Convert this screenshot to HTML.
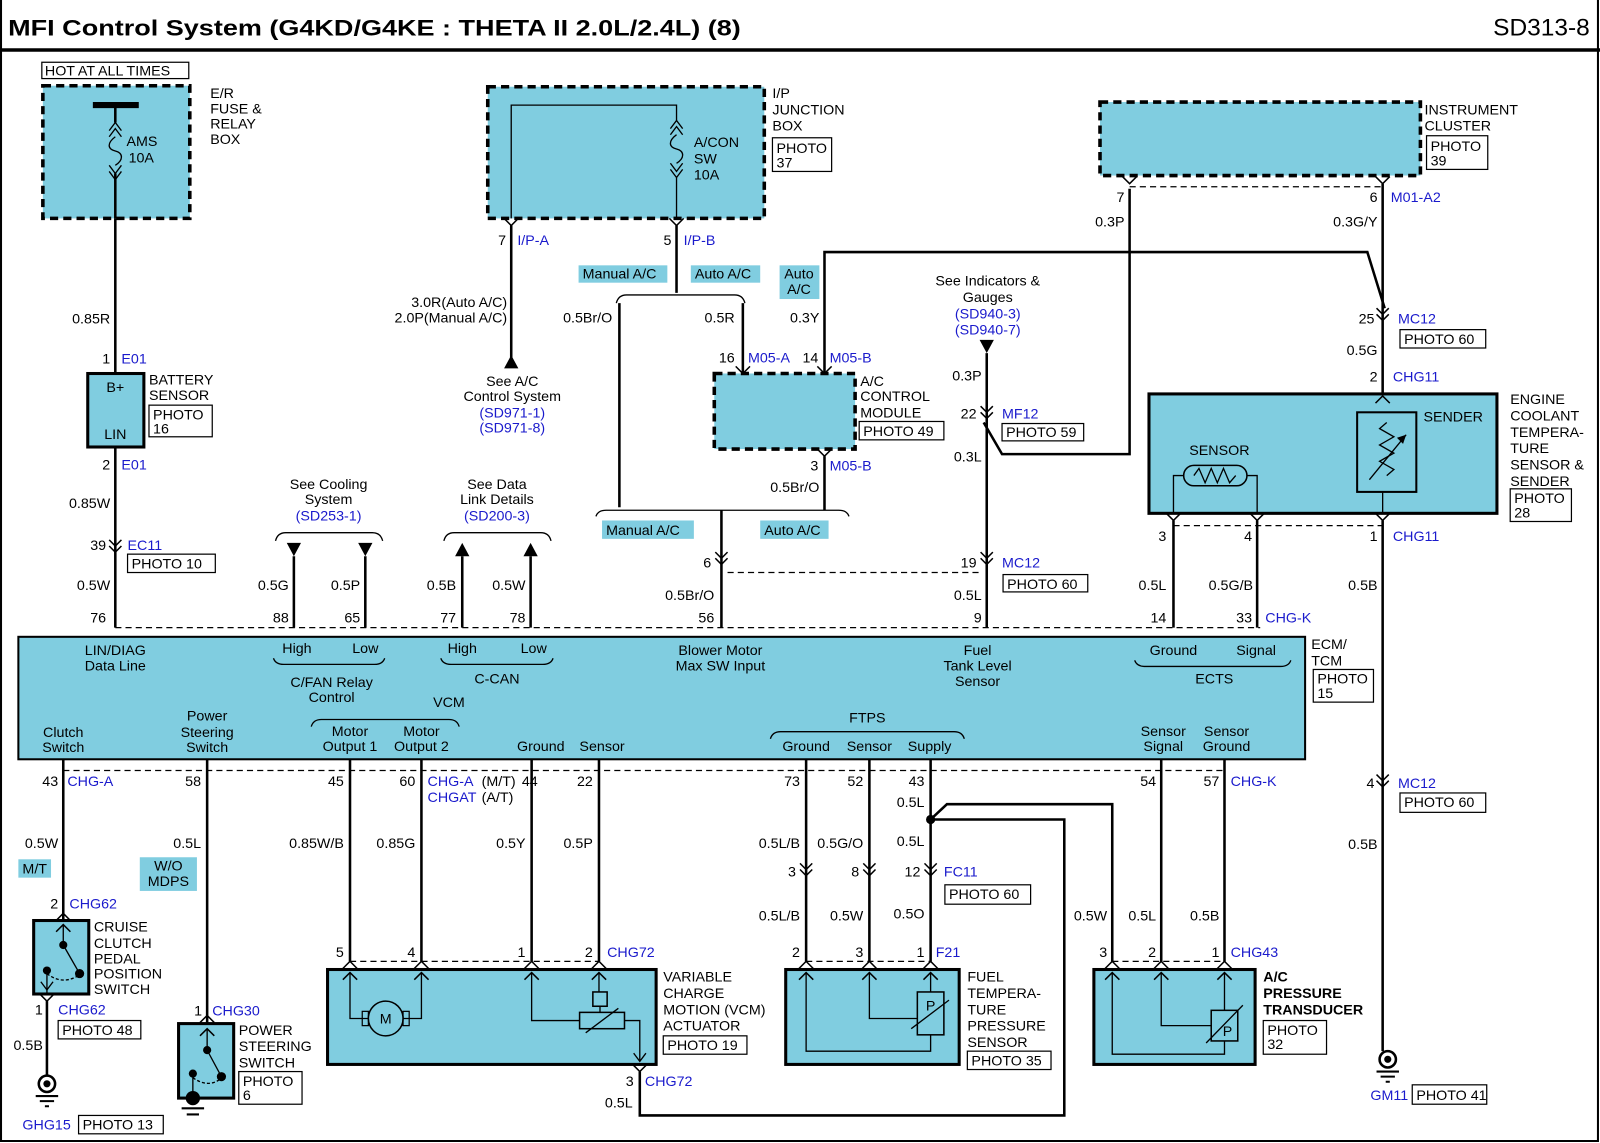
<!DOCTYPE html>
<html><head><meta charset="utf-8"><style>
html,body{margin:0;padding:0;background:#fff;}
svg{display:block;}
text{font-family:"Liberation Sans",sans-serif;font-size:14px;fill:#000;}
.b{fill:#1a1acc;}
.r{text-anchor:end;}
.m{text-anchor:middle;}
.w{stroke:#000;stroke-width:2.5;fill:none;}
.t{stroke:#000;stroke-width:1.3;fill:none;}
.d{stroke:#000;stroke-width:1.2;fill:none;stroke-dasharray:6,4;}
.bx{fill:#80cde0;stroke:#000;stroke-width:3.5;}
.dbx{fill:#80cde0;stroke:#000;stroke-width:3.5;stroke-dasharray:8,5;}
.pb{fill:#fff;stroke:#000;stroke-width:1.2;}
.lb{fill:#80cde0;}
</style></head><body>
<svg width="1600" height="1143" viewBox="0 0 1568 1120" preserveAspectRatio="none" xmlns="http://www.w3.org/2000/svg">
<defs>
<path id="cv" d="M-6,-5 L0,1 L6,-5 M-6,1 L0,7 L6,1" stroke="#000" stroke-width="1.5" fill="none"/>
<path id="yv" d="M-7,-7 L0,0 L7,-7" stroke="#000" stroke-width="1.5" fill="none"/>
<path id="car" d="M-7,7 L0,0 L7,7" stroke="#000" stroke-width="1.5" fill="none"/>
<g id="gnd"><circle cx="0" cy="0" r="8" fill="#fff" stroke="#000" stroke-width="2.5"/><circle cx="0" cy="0" r="3.5" fill="#000"/><path d="M-11,12 H11 M-7,17 H7 M-2,22 H2" stroke="#000" stroke-width="2"/></g>
</defs>
<rect x="0" y="0" width="1568" height="1120" fill="#fff"/>
<!-- frame -->
<path d="M1,0 V1118 H1566 V0" stroke="#000" stroke-width="2" fill="none"/>
<line x1="0" y1="49" x2="1568" y2="49" stroke="#000" stroke-width="3.5"/>
<text x="8" y="35" style="font-size:22px;font-weight:bold" textLength="718" lengthAdjust="spacingAndGlyphs">MFI Control System (G4KD/G4KE : THETA II 2.0L/2.4L) (8)</text>
<text x="1558" y="35" class="r" style="font-size:24px">SD313-8</text>

<!-- E/R fuse box -->
<rect x="41" y="61" width="144" height="16" class="pb"/>
<text x="44" y="74">HOT AT ALL TIMES</text>
<rect x="42" y="84" width="144" height="130" class="dbx"/>
<line x1="91" y1="103" x2="136" y2="103" stroke="#000" stroke-width="6"/>
<path d="M113,103 V120 M113,170 V214" class="w"/>
<path d="M107,128 L113,120 L119,128 M107,134 L113,126 L119,134" class="t"/>
<path d="M113,134 C105,140 105,146 113,148 C121,150 121,157 113,162" class="t" stroke-width="1.8"/>
<path d="M107,162 L113,170 L119,162 M107,168 L113,176 L119,168" class="t"/>
<text x="124" y="143">AMS</text><text x="126" y="159">10A</text>
<text x="206" y="96">E/R</text><text x="206" y="111">FUSE &amp;</text><text x="206" y="126">RELAY</text><text x="206" y="141">BOX</text>
<path d="M113,214 V366" class="w"/>
<text x="108" y="317" class="r">0.85R</text>
<text x="108" y="356" class="r">1</text><text x="119" y="356" class="b">E01</text>
<rect x="86" y="366" width="55" height="72" class="bx" style="stroke-width:3"/>
<text x="113" y="384" class="m">B+</text><text x="113" y="430" class="m">LIN</text>
<text x="146" y="377">BATTERY</text><text x="146" y="392">SENSOR</text>
<rect x="146" y="397" width="62" height="31" class="pb"/><text x="150" y="411">PHOTO</text><text x="150" y="425">16</text>
<path d="M113,438 V615" class="w"/>
<text x="108" y="460" class="r">2</text><text x="119" y="460" class="b">E01</text>
<text x="108" y="498" class="r">0.85W</text>
<use href="#cv" x="113" y="534"/>
<text x="104" y="539" class="r">39</text><text x="125" y="539" class="b">EC11</text>
<rect x="125" y="543" width="86" height="18" class="pb"/><text x="129" y="557">PHOTO 10</text>
<text x="108" y="578" class="r">0.5W</text>
<text x="104" y="610" class="r">76</text>

<!-- cooling / data link -->
<text x="322" y="479" class="m">See Cooling</text><text x="322" y="494" class="m">System</text><text x="322" y="510" class="m b">(SD253-1)</text>
<path d="M270,530 Q272,522 280,522 H365 Q373,522 375,530" class="t"/>
<path d="M281,532 H295 L288,545 Z M351,532 H365 L358,545 Z" fill="#000"/>
<path d="M288,545 V615 M358,545 V615" class="w"/>
<text x="283" y="578" class="r">0.5G</text><text x="353" y="578" class="r">0.5P</text>
<text x="283" y="610" class="r">88</text><text x="353" y="610" class="r">65</text>
<text x="487" y="479" class="m">See Data</text><text x="487" y="494" class="m">Link Details</text><text x="487" y="510" class="m b">(SD200-3)</text>
<path d="M435,530 Q437,522 445,522 H530 Q538,522 540,530" class="t"/>
<path d="M446,545 H460 L453,532 Z M513,545 H527 L520,532 Z" fill="#000"/>
<path d="M453,545 V615 M520,545 V615" class="w"/>
<text x="447" y="578" class="r">0.5B</text><text x="515" y="578" class="r">0.5W</text>
<text x="447" y="610" class="r">77</text><text x="515" y="610" class="r">78</text>

<!-- I/P junction box -->
<rect x="478" y="85" width="271" height="129" class="dbx"/>
<path d="M501,214 V103 H663 V118" class="t" stroke-width="1.5"/>
<path d="M657,126 L663,118 L669,126 M657,132 L663,124 L669,132" class="t"/>
<path d="M663,132 C655,138 655,144 663,146 C671,148 671,155 663,160" class="t" stroke-width="1.8"/>
<path d="M657,160 L663,168 L669,160 M657,166 L663,174 L669,166 M663,174 V214" class="t"/>
<text x="680" y="144">A/CON</text><text x="680" y="160">SW</text><text x="680" y="176">10A</text>
<text x="757" y="96">I/P</text><text x="757" y="112">JUNCTION</text><text x="757" y="128">BOX</text>
<rect x="757" y="135" width="58" height="33" class="pb"/><text x="761" y="150">PHOTO</text><text x="761" y="164">37</text>
<use href="#yv" x="501" y="221"/><use href="#yv" x="663" y="221"/>
<path d="M501,221 V352" class="w"/>
<path d="M494,361 H508 L501,348 Z" fill="#000"/>
<text x="496" y="240" class="r">7</text><text x="507" y="240" class="b">I/P-A</text>
<text x="497" y="301" class="r">3.0R(Auto A/C)</text><text x="497" y="316" class="r">2.0P(Manual A/C)</text>
<text x="502" y="378" class="m">See A/C</text><text x="502" y="393" class="m">Control System</text><text x="502" y="409" class="m b">(SD971-1)</text><text x="502" y="424" class="m b">(SD971-8)</text>
<path d="M663,221 V287" class="w"/>
<text x="658" y="240" class="r">5</text><text x="670" y="240" class="b">I/P-B</text>
<path d="M604,297 Q606,289 614,289 H720 Q728,289 730,297" class="t"/>
<path d="M607,297 V497 M728,297 V365" class="w"/>
<rect x="567" y="260" width="87" height="17" class="lb"/><text x="571" y="273">Manual A/C</text>
<rect x="677" y="260" width="68" height="17" class="lb"/><text x="681" y="273">Auto A/C</text>
<rect x="764" y="260" width="39" height="33" class="lb"/><text x="783" y="273" class="m">Auto</text><text x="783" y="288" class="m">A/C</text>
<text x="600" y="316" class="r">0.5Br/O</text><text x="720" y="316" class="r">0.5R</text><text x="803" y="316" class="r">0.3Y</text>
<path d="M808,365 V247 H1340 L1357,302" class="w"/>
<text x="720" y="355" class="r">16</text><text x="733" y="355" class="b">M05-A</text>
<text x="802" y="355" class="r">14</text><text x="813" y="355" class="b">M05-B</text>
<use href="#yv" x="728" y="366"/><use href="#yv" x="808" y="366"/>
<rect x="700" y="366" width="138" height="74" class="dbx"/>
<text x="843" y="378">A/C</text><text x="843" y="393">CONTROL</text><text x="843" y="409">MODULE</text>
<rect x="842" y="413" width="83" height="18" class="pb"/><text x="846" y="427">PHOTO 49</text>
<use href="#yv" x="808" y="447"/>
<path d="M808,447 V500" class="w"/>
<text x="802" y="461" class="r">3</text><text x="813" y="461" class="b">M05-B</text>
<text x="803" y="482" class="r">0.5Br/O</text>
<path d="M584,506 Q586,500 594,500 H822 Q830,500 832,506" class="t"/>
<path d="M707,500 V615" class="w"/>
<rect x="590" y="510" width="90" height="18" class="lb"/><text x="594" y="524">Manual A/C</text>
<rect x="745" y="510" width="67" height="18" class="lb"/><text x="749" y="524">Auto A/C</text>
<use href="#cv" x="707" y="546"/>
<text x="697" y="556" class="r">6</text>
<path d="M713,561 H962" class="d"/>
<text x="700" y="588" class="r">0.5Br/O</text>
<text x="700" y="610" class="r">56</text>

<!-- fuel gauge -->
<text x="968" y="280" class="m">See Indicators &amp;</text><text x="968" y="296" class="m">Gauges</text><text x="968" y="312" class="m b">(SD940-3)</text><text x="968" y="328" class="m b">(SD940-7)</text>
<path d="M960,333 H974 L967,346 Z" fill="#000"/>
<path d="M967,346 V615" class="w"/>
<text x="962" y="373" class="r">0.3P</text>
<use href="#cv" x="967" y="403"/>
<text x="957" y="410" class="r">22</text><text x="982" y="410" class="b">MF12</text>
<rect x="982" y="415" width="80" height="17" class="pb"/><text x="986" y="428">PHOTO 59</text>
<text x="962" y="452" class="r">0.3L</text>
<path d="M1107,185 V445 H982 L964,414" class="w"/>
<use href="#cv" x="967" y="546"/>
<text x="957" y="556" class="r">19</text><text x="982" y="556" class="b">MC12</text>
<rect x="983" y="563" width="83" height="17" class="pb"/><text x="987" y="577">PHOTO 60</text>
<text x="962" y="588" class="r">0.5L</text>
<text x="962" y="610" class="r">9</text>

<!-- instrument cluster -->
<rect x="1078" y="100" width="314" height="72" class="dbx"/>
<text x="1396" y="112">INSTRUMENT</text><text x="1396" y="128">CLUSTER</text>
<rect x="1398" y="133" width="60" height="33" class="pb"/><text x="1402" y="148">PHOTO</text><text x="1402" y="162">39</text>
<path d="M1107,183 H1355" class="d"/>
<use href="#yv" x="1107" y="180"/><use href="#yv" x="1355" y="180"/>
<path d="M1355,180 V386" class="w"/>
<text x="1102" y="198" class="r">7</text>
<text x="1350" y="198" class="r">6</text><text x="1363" y="198" class="b">M01-A2</text>
<text x="1102" y="222" class="r">0.3P</text><text x="1350" y="222" class="r">0.3G/Y</text>
<use href="#cv" x="1355" y="307"/>
<text x="1347" y="317" class="r">25</text><text x="1370" y="317" class="b">MC12</text>
<rect x="1372" y="323" width="84" height="18" class="pb"/><text x="1376" y="337">PHOTO 60</text>
<text x="1350" y="348" class="r">0.5G</text>
<text x="1350" y="374" class="r">2</text><text x="1365" y="374" class="b">CHG11</text>

<!-- ECT sensor -->
<rect x="1126" y="386" width="341" height="117" class="bx" style="stroke-width:3"/>
<use href="#car" x="1355" y="388"/>
<rect x="1330" y="404" width="58" height="78" fill="none" stroke="#000" stroke-width="2"/>
<path d="M1359,414 L1352,420 L1366,428 L1352,436 L1366,444 L1352,452 L1366,460 L1359,466" class="t"/>
<path d="M1342,470 L1378,426" class="t"/><path d="M1378,426 L1369,429 L1375,435 Z" fill="#000"/>
<path d="M1355,482 V503" class="t" stroke-width="1.5"/>
<text x="1395" y="413">SENDER</text>
<text x="1195" y="446" class="m">SENSOR</text>
<rect x="1160" y="456" width="62" height="20" rx="10" fill="none" stroke="#000" stroke-width="1.5"/>
<path d="M1170,466 L1175,459 L1181,473 L1187,459 L1193,473 L1199,459 L1205,473 L1211,466" class="t"/>
<path d="M1160,466 H1150 V503 M1222,466 H1232 V503" class="t" stroke-width="1.5"/>
<text x="1480" y="396">ENGINE</text><text x="1480" y="412">COOLANT</text><text x="1480" y="428">TEMPERA-</text><text x="1480" y="444">TURE</text><text x="1480" y="460">SENSOR &amp;</text><text x="1480" y="476">SENDER</text>
<rect x="1480" y="479" width="60" height="32" class="pb"/><text x="1484" y="493">PHOTO</text><text x="1484" y="507">28</text>
<use href="#yv" x="1150" y="510"/><use href="#yv" x="1232" y="510"/><use href="#yv" x="1355" y="510"/>
<path d="M1150,515 H1355" class="d"/>
<path d="M1150,510 V615 M1232,510 V615 M1355,510 V1030" class="w"/>
<text x="1143" y="530" class="r">3</text><text x="1227" y="530" class="r">4</text>
<text x="1350" y="530" class="r">1</text><text x="1365" y="530" class="b">CHG11</text>
<text x="1143" y="578" class="r">0.5L</text><text x="1228" y="578" class="r">0.5G/B</text><text x="1350" y="578" class="r">0.5B</text>
<text x="1143" y="610" class="r">14</text><text x="1227" y="610" class="r">33</text><text x="1240" y="610" class="b">CHG-K</text>
<use href="#cv" x="1355" y="764"/>
<text x="1347" y="772" class="r">4</text><text x="1370" y="772" class="b">MC12</text>
<rect x="1372" y="777" width="84" height="19" class="pb"/><text x="1376" y="791">PHOTO 60</text>
<text x="1350" y="832" class="r">0.5B</text>
<use href="#gnd" x="1360" y="1038"/>
<text x="1380" y="1078" class="r b">GM11</text>
<rect x="1384" y="1063" width="73" height="19" class="pb"/><text x="1388" y="1078">PHOTO 41</text>

<!-- ECM -->
<path d="M113,615 H1235" class="d"/>
<rect x="18" y="624" width="1261" height="120" class="lb" stroke="#000" stroke-width="2"/>
<text x="113" y="642" class="m">LIN/DIAG</text><text x="113" y="657" class="m">Data Line</text>
<text x="291" y="640" class="m">High</text><text x="358" y="640" class="m">Low</text>
<path d="M268,645 Q270,651 278,651 H367 Q375,651 377,645" class="t"/>
<text x="325" y="673" class="m">C/FAN Relay</text><text x="325" y="688" class="m">Control</text>
<text x="453" y="640" class="m">High</text><text x="523" y="640" class="m">Low</text>
<path d="M432,645 Q434,651 442,651 H532 Q540,651 542,645" class="t"/>
<text x="487" y="670" class="m">C-CAN</text>
<text x="706" y="642" class="m">Blower Motor</text><text x="706" y="657" class="m">Max SW Input</text>
<text x="958" y="642" class="m">Fuel</text><text x="958" y="657" class="m">Tank Level</text><text x="958" y="672" class="m">Sensor</text>
<text x="1150" y="642" class="m">Ground</text><text x="1231" y="642" class="m">Signal</text>
<path d="M1112,647 Q1114,653 1122,653 H1255 Q1263,653 1265,647" class="t"/>
<text x="1190" y="670" class="m">ECTS</text>
<text x="1285" y="636">ECM/</text><text x="1285" y="652">TCM</text>
<rect x="1287" y="656" width="59" height="32" class="pb"/><text x="1291" y="670">PHOTO</text><text x="1291" y="684">15</text>
<text x="62" y="722" class="m">Clutch</text><text x="62" y="737" class="m">Switch</text>
<text x="203" y="706" class="m">Power</text><text x="203" y="722" class="m">Steering</text><text x="203" y="737" class="m">Switch</text>
<text x="440" y="693" class="m">VCM</text>
<path d="M305,712 Q307,705 315,705 H440 Q448,705 450,712" class="t"/>
<text x="343" y="721" class="m">Motor</text><text x="343" y="736" class="m">Output 1</text>
<text x="413" y="721" class="m">Motor</text><text x="413" y="736" class="m">Output 2</text>
<text x="530" y="736" class="m">Ground</text><text x="590" y="736" class="m">Sensor</text>
<text x="850" y="708" class="m">FTPS</text>
<path d="M755,724 Q757,717 765,717 H935 Q943,717 945,724" class="t"/>
<text x="790" y="736" class="m">Ground</text><text x="852" y="736" class="m">Sensor</text><text x="911" y="736" class="m">Supply</text>
<text x="1140" y="721" class="m">Sensor</text><text x="1140" y="736" class="m">Signal</text>
<text x="1202" y="721" class="m">Sensor</text><text x="1202" y="736" class="m">Ground</text>
<path d="M62,755 H1200" class="d"/>
<text x="57" y="770" class="r">43</text><text x="66" y="770" class="b">CHG-A</text>
<text x="197" y="770" class="r">58</text>
<text x="337" y="770" class="r">45</text>
<text x="407" y="770" class="r">60</text><text x="419" y="770" class="b">CHG-A</text><text x="472" y="770">(M/T)</text>
<text x="419" y="786" class="b">CHGAT</text><text x="472" y="786">(A/T)</text>
<text x="527" y="770" class="r">44</text>
<text x="581" y="770" class="r">22</text>
<text x="784" y="770" class="r">73</text><text x="846" y="770" class="r">52</text><text x="906" y="770" class="r">43</text>
<text x="1133" y="770" class="r">54</text><text x="1195" y="770" class="r">57</text><text x="1206" y="770" class="b">CHG-K</text>

<!-- clutch switch -->
<path d="M62,744 V902" class="w"/>
<text x="57" y="831" class="r">0.5W</text>
<rect x="18" y="842" width="32" height="18" class="lb"/><text x="22" y="856">M/T</text>
<text x="57" y="890" class="r">2</text><text x="68" y="890" class="b">CHG62</text>
<use href="#car" x="62" y="895"/>
<rect x="33" y="902" width="54" height="72" class="bx" style="stroke-width:3"/>
<use href="#car" x="62" y="906"/>
<path d="M62,906 V926 L78,954" class="t" stroke-width="1.5"/>
<circle cx="62" cy="926" r="4" fill="#000"/><circle cx="78" cy="954" r="4.5" fill="#000"/><circle cx="46" cy="951" r="4" fill="#000"/>
<path d="M46,954 Q60,965 75,957" class="t" stroke-dasharray="3,2"/>
<path d="M46,951 V974" class="t" stroke-width="1.5"/>
<path d="M40,962 L46,970 L52,962" class="t"/>
<use href="#yv" x="46" y="981"/>
<path d="M46,981 V1054" class="w"/>
<text x="92" y="913">CRUISE</text><text x="92" y="929">CLUTCH</text><text x="92" y="944">PEDAL</text><text x="92" y="959">POSITION</text><text x="92" y="974">SWITCH</text>
<text x="42" y="994" class="r">1</text><text x="57" y="994" class="b">CHG62</text>
<rect x="57" y="1000" width="81" height="18" class="pb"/><text x="61" y="1014">PHOTO 48</text>
<text x="42" y="1029" class="r">0.5B</text>
<use href="#gnd" x="46" y="1062"/>
<text x="22" y="1107" class="b">GHG15</text>
<rect x="77" y="1093" width="83" height="18" class="pb"/><text x="81" y="1107">PHOTO 13</text>

<!-- power steering switch -->
<path d="M203,744 V1002" class="w"/>
<text x="197" y="831" class="r">0.5L</text>
<rect x="137" y="840" width="56" height="33" class="lb"/><text x="165" y="853" class="m">W/O</text><text x="165" y="868" class="m">MDPS</text>
<text x="198" y="995" class="r">1</text><text x="208" y="995" class="b">CHG30</text>
<use href="#car" x="203" y="995"/>
<rect x="175" y="1003" width="54" height="73" class="bx" style="stroke-width:3"/>
<use href="#car" x="203" y="1008"/>
<path d="M203,1008 V1029 L217,1055" class="t" stroke-width="1.5"/>
<circle cx="203" cy="1029" r="4" fill="#000"/><circle cx="217" cy="1055" r="4.5" fill="#000"/><circle cx="189" cy="1052" r="4" fill="#000"/>
<path d="M189,1056 Q203,1066 215,1058" class="t" stroke-dasharray="3,2"/>
<path d="M189,1052 V1076" class="t" stroke-width="1.5"/>
<circle cx="189" cy="1076" r="7" fill="#000"/>
<path d="M178,1086 H200 M183,1092 H195" stroke="#000" stroke-width="2"/>
<text x="234" y="1014">POWER</text><text x="234" y="1030">STEERING</text><text x="234" y="1046">SWITCH</text>
<rect x="234" y="1050" width="62" height="32" class="pb"/><text x="238" y="1064">PHOTO</text><text x="238" y="1078">6</text>

<!-- VCM actuator -->
<path d="M343,744 V942 M413,744 V942 M521,744 V942 M587,744 V942" class="w"/>
<text x="337" y="831" class="r">0.85W/B</text><text x="407" y="831" class="r">0.85G</text><text x="515" y="831" class="r">0.5Y</text><text x="581" y="831" class="r">0.5P</text>
<text x="337" y="938" class="r">5</text><text x="407" y="938" class="r">4</text><text x="515" y="938" class="r">1</text><text x="581" y="938" class="r">2</text><text x="595" y="938" class="b">CHG72</text>
<path d="M343,942 H587" class="d"/>
<use href="#car" x="343" y="942"/><use href="#car" x="413" y="942"/><use href="#car" x="521" y="942"/><use href="#car" x="587" y="942"/>
<rect x="321" y="950" width="322" height="93" class="bx" style="stroke-width:3"/>
<use href="#car" x="343" y="953"/><use href="#car" x="413" y="953"/><use href="#car" x="521" y="953"/><use href="#car" x="587" y="953"/>
<path d="M343,953 V998 H361 M413,953 V998 H395" class="t" stroke-width="1.5"/>
<circle cx="378" cy="998" r="17" fill="none" stroke="#000" stroke-width="1.5"/>
<rect x="355" y="991" width="6" height="14" fill="none" stroke="#000" stroke-width="1.2"/><rect x="395" y="991" width="6" height="14" fill="none" stroke="#000" stroke-width="1.2"/>
<text x="378" y="1003" class="m">M</text>
<path d="M521,953 V1000 H568 M587,953 V972" class="t" stroke-width="1.5"/>
<rect x="581" y="972" width="14" height="14" fill="none" stroke="#000" stroke-width="1.5"/>
<path d="M588,986 V992" class="t" stroke-width="1.5"/>
<rect x="568" y="992" width="44" height="16" fill="none" stroke="#000" stroke-width="1.5"/>
<path d="M574,1012 L606,988" class="t"/>
<path d="M612,1000 H627 V1040" class="t" stroke-width="1.5"/>
<path d="M621,1032 L627,1040 L633,1032" class="t"/>
<use href="#yv" x="627" y="1050"/>
<path d="M627,1050 V1093 H1043 V803 H912" class="w"/>
<text x="650" y="962">VARIABLE</text><text x="650" y="978">CHARGE</text><text x="650" y="994">MOTION (VCM)</text><text x="650" y="1010">ACTUATOR</text>
<rect x="650" y="1015" width="82" height="18" class="pb"/><text x="654" y="1029">PHOTO 19</text>
<text x="621" y="1064" class="r">3</text><text x="632" y="1064" class="b">CHG72</text>
<text x="620" y="1085" class="r">0.5L</text>

<!-- FTPS -->
<path d="M790,744 V942 M852,744 V942 M912,744 V942" class="w"/>
<circle cx="912" cy="803" r="4.5" fill="#000"/>
<path d="M912,803 L928,788 H1090 V942" class="w"/>
<text x="906" y="791" class="r">0.5L</text><text x="906" y="829" class="r">0.5L</text>
<text x="784" y="831" class="r">0.5L/B</text><text x="846" y="831" class="r">0.5G/O</text>
<use href="#cv" x="790" y="851"/><use href="#cv" x="852" y="851"/><use href="#cv" x="912" y="851"/>
<text x="780" y="859" class="r">3</text><text x="842" y="859" class="r">8</text><text x="902" y="859" class="r">12</text><text x="925" y="859" class="b">FC11</text>
<rect x="926" y="867" width="84" height="19" class="pb"/><text x="930" y="881">PHOTO 60</text>
<text x="784" y="902" class="r">0.5L/B</text><text x="846" y="902" class="r">0.5W</text><text x="906" y="900" class="r">0.5O</text>
<text x="784" y="938" class="r">2</text><text x="846" y="938" class="r">3</text><text x="906" y="938" class="r">1</text><text x="917" y="938" class="b">F21</text>
<path d="M790,942 H912" class="d"/>
<use href="#car" x="790" y="942"/><use href="#car" x="852" y="942"/><use href="#car" x="912" y="942"/>
<rect x="770" y="950" width="170" height="93" class="bx" style="stroke-width:3"/>
<use href="#car" x="790" y="953"/><use href="#car" x="852" y="953"/><use href="#car" x="912" y="953"/>
<path d="M790,953 V1030 H912 V1014 M852,953 V998 H899 M912,953 V972" class="t" stroke-width="1.5"/>
<rect x="899" y="972" width="26" height="42" fill="none" stroke="#000" stroke-width="1.5"/>
<path d="M893,1008 L930,980" class="t"/>
<text x="912" y="990" class="m">P</text>
<text x="948" y="962">FUEL</text><text x="948" y="978">TEMPERA-</text><text x="948" y="994">TURE</text><text x="948" y="1010">PRESSURE</text><text x="948" y="1026">SENSOR</text>
<rect x="948" y="1030" width="82" height="18" class="pb"/><text x="952" y="1044">PHOTO 35</text>

<!-- A/C pressure transducer -->
<path d="M1138,744 V942 M1200,744 V942" class="w"/>
<text x="1085" y="902" class="r">0.5W</text><text x="1133" y="902" class="r">0.5L</text><text x="1195" y="902" class="r">0.5B</text>
<text x="1085" y="938" class="r">3</text><text x="1133" y="938" class="r">2</text><text x="1195" y="938" class="r">1</text><text x="1206" y="938" class="b">CHG43</text>
<path d="M1090,942 H1200" class="d"/>
<use href="#car" x="1090" y="942"/><use href="#car" x="1138" y="942"/><use href="#car" x="1200" y="942"/>
<rect x="1072" y="950" width="158" height="93" class="bx" style="stroke-width:3"/>
<use href="#car" x="1090" y="953"/><use href="#car" x="1138" y="953"/><use href="#car" x="1200" y="953"/>
<path d="M1090,953 V1033 H1200 V1020 M1138,953 V1005 H1187 M1200,953 V990" class="t" stroke-width="1.5"/>
<rect x="1187" y="990" width="26" height="30" fill="none" stroke="#000" stroke-width="1.5"/>
<path d="M1182,1022 L1218,985" class="t"/>
<text x="1203" y="1015" class="m">P</text>
<text x="1238" y="962" style="font-weight:bold">A/C</text><text x="1238" y="978" style="font-weight:bold">PRESSURE</text><text x="1238" y="994" style="font-weight:bold">TRANSDUCER</text>
<rect x="1238" y="1000" width="62" height="33" class="pb"/><text x="1242" y="1014">PHOTO</text><text x="1242" y="1028">32</text>
</svg>
</body></html>
